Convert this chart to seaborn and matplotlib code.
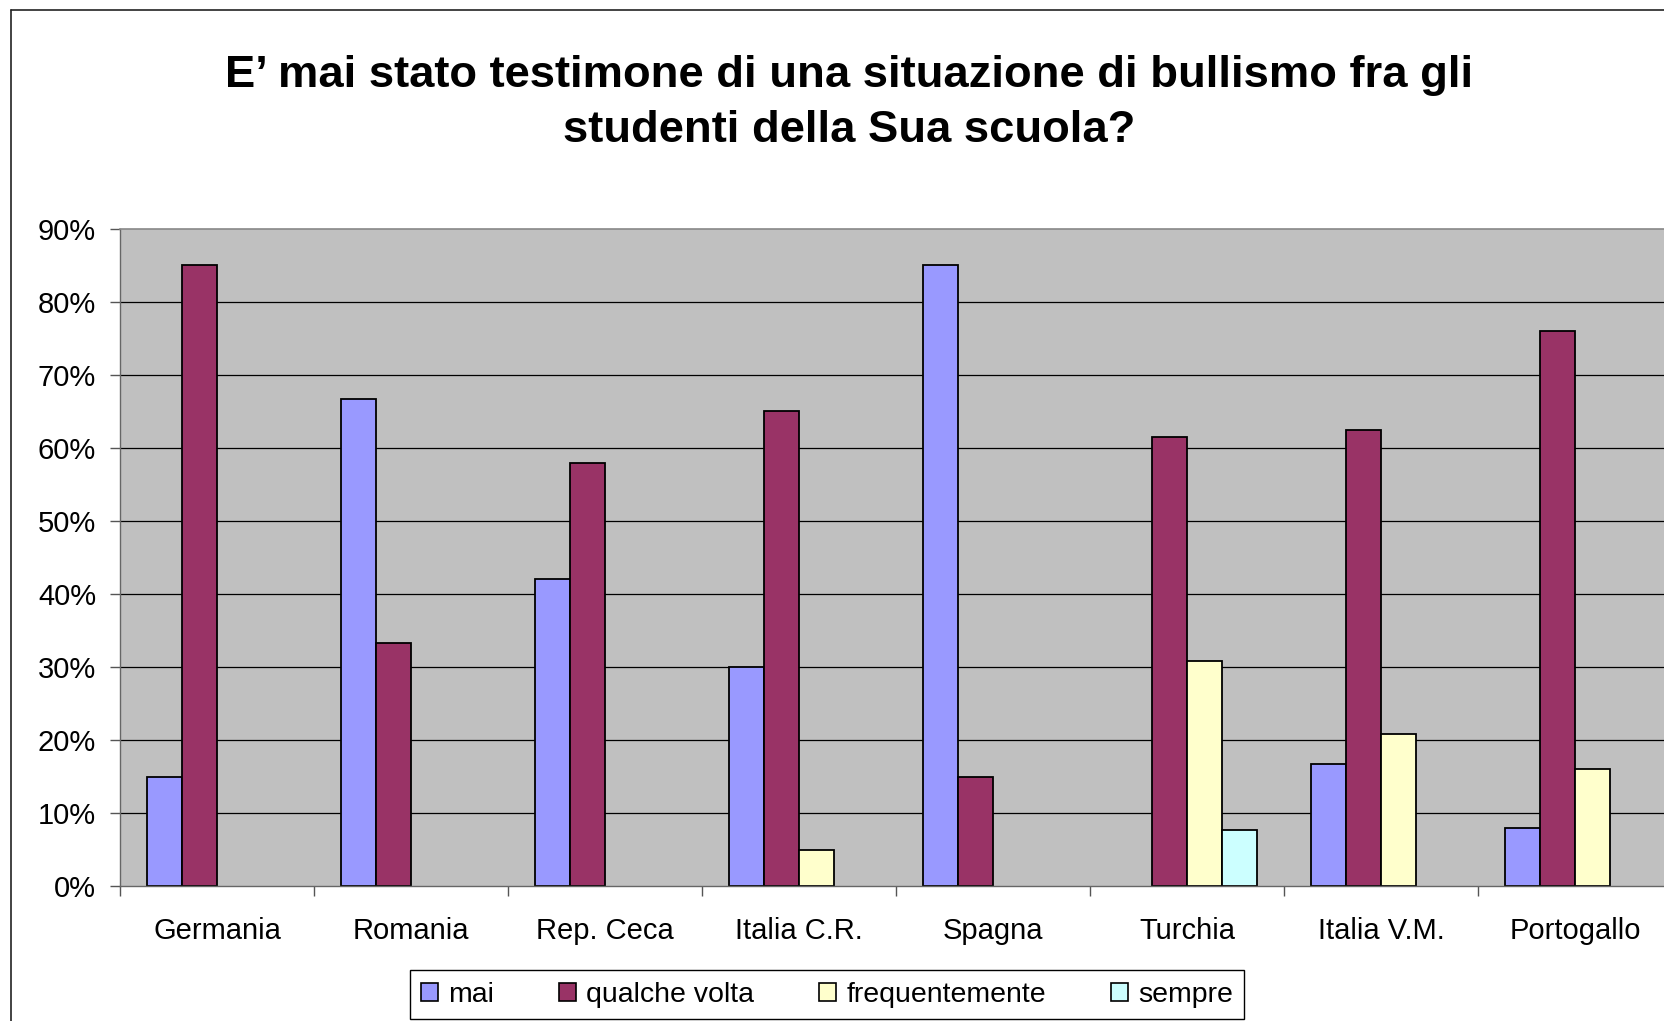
import matplotlib
matplotlib.use("Agg")
import matplotlib.pyplot as plt
import matplotlib.patches as mpatches
from matplotlib.lines import Line2D
from matplotlib.ticker import FixedLocator, FuncFormatter
import numpy as np
import pandas as pd
import seaborn as sns

# dati (percentuali)
paesi = ["Germania", "Romania", "Rep. Ceca", "Italia C.R.", "Spagna",
         "Turchia", "Italia V.M.", "Portogallo"]
risposte = ["mai", "qualche volta", "frequentemente", "sempre"]
mai = [15.0, 66.7, 42.0, 30.0, 85.0, np.nan, 16.7, 8.0]
qualche_volta = [85.0, 33.3, 58.0, 65.0, 15.0, 61.5, 62.5, 76.0]
frequentemente = [np.nan, np.nan, np.nan, 5.0, np.nan, 30.8, 20.8, 16.0]
sempre = [np.nan, np.nan, np.nan, np.nan, np.nan, 7.7, np.nan, np.nan]
colori = ["#9999FF", "#993366", "#FFFFCC", "#CCFFFF"]

df = pd.DataFrame({"paese": paesi, "mai": mai, "qualche volta": qualche_volta,
                   "frequentemente": frequentemente, "sempre": sempre})
df = df.melt(id_vars="paese", var_name="risposta", value_name="valore")

sns.set_style("white")
plt.rcParams["font.family"] = ["Liberation Sans", "DejaVu Sans"]
plt.rcParams["text.color"] = "black"
plt.rcParams["xtick.color"] = "black"
plt.rcParams["ytick.color"] = "black"

W, H = 1664, 1021
fig = plt.figure(figsize=(W / 100, H / 100), dpi=100)
ax = fig.add_axes([120 / W, 1 - 886 / H, 1552 / W, 657 / H])
ax.set_facecolor("#C0C0C0")

# griglia orizzontale
for v in range(10, 90, 10):
    ax.axhline(v, color="black", lw=0.9, zorder=0)

sns.barplot(data=df, x="paese", y="valore", hue="risposta", order=paesi,
            hue_order=risposte, palette=colori, width=0.72, edgecolor="black",
            linewidth=1.3, saturation=1, legend=False, ax=ax, zorder=2)

ax.set_xlim(-0.5, 7.5)
ax.set_ylim(0, 90)
ax.set_xlabel("")
ax.set_ylabel("")
ax.set_yticks(range(0, 91, 10))
ax.yaxis.set_major_formatter(FuncFormatter(lambda v, p: f"{int(v)}%"))
ax.tick_params(axis="y", direction="out", length=7.2, width=1, color="#555555",
               pad=10, labelsize=21, left=True)
ax.tick_params(axis="x", which="major", length=0, pad=22, labelsize=21)
ax.xaxis.set_minor_locator(FixedLocator(np.arange(-0.5, 8, 1)))
ax.tick_params(axis="x", which="minor", direction="out", length=7.2, width=1,
               color="#555555", bottom=True)

for s in ["left", "bottom"]:
    ax.spines[s].set_color("#666666")
    ax.spines[s].set_linewidth(1)
ax.spines["top"].set_color("#888888")
ax.spines["top"].set_linewidth(1.2)
ax.spines["right"].set_visible(False)

fig.text(849 / W, 1 - 103 / H,
         "E\u2019 mai stato testimone di una situazione di bullismo fra gli\nstudenti della Sua scuola?",
         ha="center", va="center", fontsize=32.7, fontweight="bold", linespacing=1.45)

# cornice esterna
fig.add_artist(Line2D([11 / W, 11 / W], [0, 1 - 10 / H], color="#222222", lw=1.2))
fig.add_artist(Line2D([11 / W, 1], [1 - 10 / H, 1 - 10 / H], color="#222222", lw=1.2))

handles = [mpatches.Patch(facecolor=c, edgecolor="black", lw=1.2) for c in colori]
leg = fig.legend(handles, risposte, loc="lower left", ncol=4, mode="expand",
                 bbox_to_anchor=(410 / W, 2 / H, 834 / W, 49 / H), borderaxespad=0,
                 fontsize=20.5, handlelength=0.6, handleheight=0.6, handletextpad=0.35,
                 fancybox=False, edgecolor="black", framealpha=1, borderpad=0.4)
leg.get_frame().set_linewidth(1.0)

fig.savefig("out.png", dpi=100)
